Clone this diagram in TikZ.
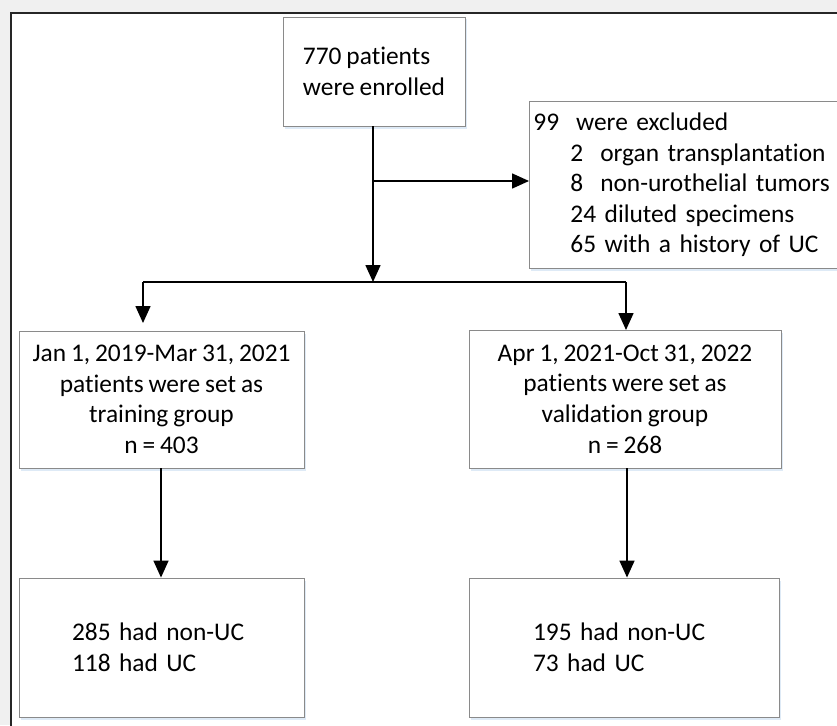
\documentclass[tikz,border=0pt]{standalone}
\usepackage{fontspec}
\setmainfont{Carlito}[Ligatures=NoCommon, WordSpace=0.85]
\usetikzlibrary{arrows.meta,shadows}
\definecolor{pagegrey}{HTML}{F0F0F0}
\definecolor{boxline}{HTML}{8A8A8A}
\definecolor{shadowblue}{HTML}{C9DDF0}
\tikzset{
  flowbox/.style={draw=boxline, line width=0.9pt, fill=white, rectangle,
    font=\fontsize{25.4}{30.6}\selectfont,
    drop shadow={shadow xshift=1.5pt, shadow yshift=-2.5pt, fill=shadowblue, opacity=0.6}},
  flowline/.style={line width=1.6pt, black},
  flowarrow/.style={flowline, -{Triangle[length=17pt,width=15pt]}}
}
\begin{document}
\begin{tikzpicture}[x=1pt,y=-1pt]
\useasboundingbox (0,0) rectangle (837,725);
\fill[pagegrey] (0,0) rectangle (837,725);
\fill[white] (11,13) rectangle (840,728);
\draw[line width=1.4pt, black!85] (11,728) -- (11,13) -- (840,13);

% boxes
\node[flowbox, minimum width=182pt, minimum height=109pt, align=left, inner xsep=19pt]
  (enrol) at (374,71.5) {770 patients\\were enrolled};
\node[flowbox, anchor=north west, minimum width=309pt, minimum height=167pt,
  text width=301pt, inner xsep=4pt, align=left]
  (excl) at (529,101) {99\ \ were excluded\\
  \hspace*{37pt}2\ \ organ transplantation\\
  \hspace*{37pt}8\ \ non-urothelial tumors\\
  \hspace*{37pt}24 diluted specimens\\
  \hspace*{37pt}65 with a history of UC};
\node[flowbox, minimum width=285pt, minimum height=137pt, align=center]
  (train) at (161.5,399.5) {Jan 1, 2019-Mar 31, 2021\\patients were set as\\training group\\n = 403};
\node[flowbox, minimum width=312pt, minimum height=138pt, align=center]
  (valid) at (625,399) {Apr 1, 2021-Oct 31, 2022\\patients were set as\\validation group\\n = 268};
\node[flowbox, minimum width=285pt, minimum height=139pt, text width=179pt,
  inner xsep=53pt, align=left]
  (trainres) at (161.5,647.5) {285 had non-UC\\118 had UC};
\node[flowbox, minimum width=310pt, minimum height=139pt, text width=182pt,
  inner xsep=64pt, align=left]
  (validres) at (624,647.5) {195 had non-UC\\73 had UC};

% connectors
\coordinate (branch) at (373,181);
\coordinate (split) at (373,282);
\coordinate (splitL) at (143,282);
\coordinate (splitR) at (626,282);
\coordinate (tipL) at (143,323);
\coordinate (tipR) at (626,330);

\draw[flowline] (enrol.south -| branch) -- (branch);
\draw[flowarrow] (branch) -- (split);
\draw[flowarrow] (branch) -- (excl.west |- branch);
\draw[flowline] (splitL) -- (splitR);
\draw[flowarrow] (splitL) -- (tipL);
\draw[flowarrow] (splitR) -- (tipR);
\draw[flowarrow] (train.south -| 161,0) -- (trainres.north -| 161,0);
\draw[flowarrow] (valid.south -| 627,0) -- (validres.north -| 627,0);
\end{tikzpicture}
\end{document}
